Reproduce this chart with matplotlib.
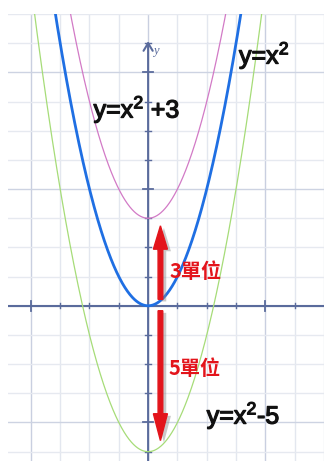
import numpy as np
import matplotlib
matplotlib.use("Agg")
import matplotlib.pyplot as plt
import matplotlib.patheffects as pe

# ---- data ----
shifts = [0, 3, -5]                       # y = x^2 + shift
curve_colors = ["#1f6fe3", "#d27ac6", "#a6dc78"]
curve_widths = [2.0, 0.9, 0.9]
labels = ["y=$\\mathrm{x}^{2}$", "y=$\\mathrm{x}^{2}$ +3", "y=$\\mathrm{x}^{2}$-5"]
label_pos = [(3.1, 8.3), (-1.86, 6.45), (2.0, -4.04)]
shift_texts = ["3單位", "5單位"]
shift_text_pos = [(0.72, 1.16), (0.7, -2.16)]
arrow_x = 0.42
arrows = [(0.22, 2.74), (-0.17, -4.62)]   # (start y, end y)

x_min, x_max = -4.78, 6.0
y_min, y_max = -5.32, 10.0

plt.rcParams['mathtext.fontset'] = 'custom'
plt.rcParams['mathtext.rm'] = 'Liberation Sans'
plt.rcParams['mathtext.it'] = 'Liberation Sans:italic'
plt.rcParams['mathtext.bf'] = 'Liberation Sans:bold'

fig = plt.figure(figsize=(3.24, 4.61), dpi=100)
ax = fig.add_axes([8/324, 0, 316/324, 447/461])
ax.set_xlim(x_min, x_max)
ax.set_ylim(y_min, y_max)
ax.set_axis_off()

axis_col = "#5a6b9c"
# grid
for gx in range(-4, 7):
    c = "#c9cfe0" if gx % 4 == 0 else "#e3e7ef"
    ax.axvline(gx, color=c, lw=1.0, zorder=0)
for gy in range(-5, 11):
    c = "#cdd3e2" if gy % 4 == 0 else "#e6e9f0"
    ax.axhline(gy, color=c, lw=1.0, zorder=0)

# axes lines
ax.plot([x_min, x_max], [0, 0], color=axis_col, lw=1.5, zorder=2)
ax.annotate("", xy=(0, 9.07), xytext=(0, y_min),
            arrowprops=dict(arrowstyle="->,head_length=0.55,head_width=0.33",
                            color=axis_col, lw=1.5, mutation_scale=10,
                            shrinkA=0, shrinkB=0), zorder=2)
ax.text(0.17, 8.72, "y", family="Liberation Serif", style="italic",
        fontsize=9, color=axis_col, va="center", ha="left")

# ticks
xt = np.arange(-4, 6)
xt = xt[xt != 0]
for t in xt:
    h = 0.17 if t % 4 == 0 else 0.09
    ax.plot([t, t], [-h, h], color=axis_col, lw=1.3 if t % 4 == 0 else 1.0, zorder=2)
yt = np.arange(-5, 10)
yt = yt[yt != 0]
for t in yt:
    h = 0.17 if t % 4 == 0 else 0.09
    ax.plot([-h, h], [t, t], color=axis_col, lw=1.3 if t % 4 == 0 else 1.0, zorder=2)

# curves
xs = np.linspace(-4.2, 4.2, 600)
for s, c, w in zip(shifts, curve_colors, curve_widths):
    ax.plot(xs, xs**2 + s, color=c, lw=w, zorder=3)

# labels
for lab, (lx, ly) in zip(labels, label_pos):
    ax.text(lx, ly, lab, family="Liberation Sans", fontsize=18, color="#111111",
            ha="left", va="baseline", zorder=5,
            path_effects=[pe.withStroke(linewidth=0.9, foreground="#111111")])

# red arrows
red = "#e3141b"
for (y0, y1) in arrows:
    dy = y1 - y0
    hl = 0.8 if dy > 0 else 0.92
    ax.arrow(arrow_x, y0, 0, dy, width=0.16, head_width=0.48, head_length=hl,
             length_includes_head=True, color=red, zorder=4,
             path_effects=[pe.SimplePatchShadow(offset=(2.5, -1.5), shadow_rgbFace="#888888", alpha=0.45),
                           pe.Normal()])

for t, (tx, ty) in zip(shift_texts, shift_text_pos):
    ax.text(tx, ty, t, family=["Noto Sans CJK TC", "DejaVu Sans"], fontsize=14.5,
            fontweight="bold", color=red, ha="left", va="center", zorder=5)

fig.savefig("out.png", dpi=100)
